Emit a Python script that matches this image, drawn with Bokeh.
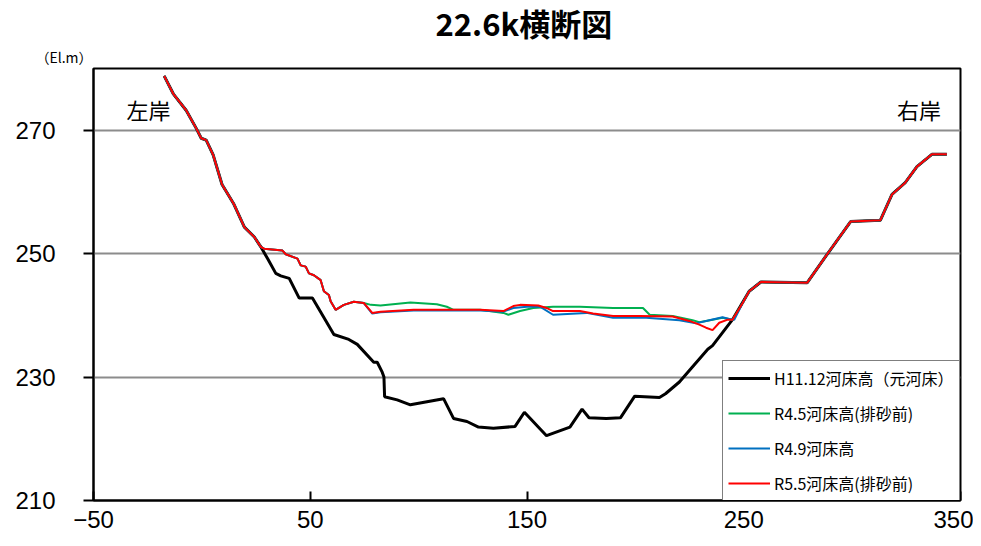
from bokeh.plotting import figure
from bokeh.models import Range1d, FixedTicker, Label, Legend, LegendItem, Title
from bokeh.embed import file_html
from bokeh.resources import INLINE

# ---- data (distance m, elevation El.m) ----
bank_left_x = [-17.4, -13.2, -7.2, -2.6, -0.3, 2.0, 5.2, 9.3, 14.8, 19.6, 24.2, 27.2]
bank_left_y = [278.8, 275.9, 273.2, 270.3, 268.7, 268.4, 266.0, 261.2, 258.0, 254.3, 252.7, 251.1]

bank_right_x = [257.9, 279.3, 289.3, 299.3, 313.0, 318.4, 324.5, 329.9, 336.8, 343.7]
bank_right_y = [245.4, 245.3, 250.3, 255.2, 255.4, 259.6, 261.5, 264.1, 266.1, 266.1]

h11_mid_x = [30.3, 34.1, 36.4, 40.3, 44.9, 51.0, 60.9, 67.8, 71.7, 79.3, 80.9, 83.2, 84.0, 84.3,
             90.1, 96.2, 111.5, 116.1, 122.3, 127.6, 134.5, 144.5, 148.8, 159.0, 169.8, 175.4,
             178.6, 186.6, 193.1, 199.7, 211.1, 213.9, 220.3, 233.4, 235.6, 244.8, 252.5]
h11_mid_y = [249.2, 246.8, 246.4, 246.0, 242.8, 242.8, 236.9, 236.1, 235.3, 232.4, 232.4, 230.8, 230.0, 226.8,
             226.3, 225.5, 226.5, 223.3, 222.8, 221.9, 221.7, 222.0, 224.3, 220.5, 221.9, 224.8,
             223.4, 223.3, 223.4, 226.9, 226.7, 227.3, 229.2, 234.5, 235.1, 239.3, 243.9]

toe_x = [28.7, 37.2, 38.7, 44.1, 45.6, 47.9, 49.4, 51.7, 54.8, 56.3, 58.6, 59.4, 61.7, 65.5, 70.1, 74.7]
toe_y = [250.8, 250.5, 249.9, 249.2, 248.1, 247.9, 246.8, 246.5, 245.7, 243.9, 243.3, 242.3, 240.9, 241.7, 242.2, 242.0]

r45_mid_x = [78.0, 82.4, 96.2, 108.4, 113.0, 116.1, 128.4, 139.1, 141.4, 146.8, 152.9, 162.0, 174.4,
             189.7, 203.5, 206.6, 217.2, 226.4, 229.5, 235.6, 240.2, 244.8, 249.5, 252.5]
r45_mid_y = [241.7, 241.6, 242.1, 241.8, 241.4, 240.9, 240.9, 240.4, 240.1, 240.7, 241.2, 241.4, 241.4,
             241.2, 241.2, 240.1, 239.9, 239.2, 238.9, 239.3, 239.6, 239.3, 242.0, 243.9]

r49_mid_x = [78.6, 82.4, 97.7, 116.1, 128.4, 139.1, 143.7, 150.0, 156.0, 162.0, 177.4, 189.7, 205.0,
             220.3, 228.0, 234.1, 240.2, 243.3, 245.6, 249.5, 252.5]
r49_mid_y = [240.3, 240.5, 240.8, 240.8, 240.8, 240.6, 241.2, 241.4, 241.4, 240.1, 240.4, 239.6, 239.6,
             239.2, 238.7, 239.2, 239.7, 239.4, 239.3, 242.0, 243.9]

r55_mid_x = [78.6, 82.4, 97.7, 116.1, 128.4, 139.1, 143.7, 146.8, 155.2, 159.0, 162.0, 174.4, 180.5,
             189.7, 201.9, 217.2, 224.9, 229.5, 232.6, 235.6, 238.7, 242.6, 244.8, 249.5, 252.5]
r55_mid_y = [240.4, 240.6, 240.9, 240.9, 240.9, 240.7, 241.5, 241.7, 241.6, 241.2, 240.7, 240.7, 240.3,
             239.9, 239.9, 239.8, 239.1, 238.5, 238.0, 237.6, 238.8, 239.3, 239.3, 242.0, 243.9]

series_names = ["H11.12河床高（元河床）", "R4.5河床高(排砂前)", "R4.9河床高", "R5.5河床高(排砂前)"]
x_ticks = [-50, 50, 150, 250, 350]
y_ticks = [210, 230, 250, 270]

h11_x = bank_left_x + h11_mid_x + bank_right_x
h11_y = bank_left_y + h11_mid_y + bank_right_y
r45_x = bank_left_x + toe_x + r45_mid_x + bank_right_x
r45_y = bank_left_y + toe_y + r45_mid_y + bank_right_y
r49_x = bank_left_x + toe_x + r49_mid_x + bank_right_x
r49_y = bank_left_y + toe_y + r49_mid_y + bank_right_y
r55_x = bank_left_x + toe_x + r55_mid_x + bank_right_x
r55_y = bank_left_y + toe_y + r55_mid_y + bank_right_y

p = figure(width=973, height=538, output_backend="svg", toolbar_location=None,
           x_range=Range1d(-50, 350), y_range=Range1d(210, 280),
           min_border_left=93, min_border_right=13, min_border_top=62, min_border_bottom=38)

p.outline_line_color = "black"
p.outline_line_width = 2
p.background_fill_color = "white"
p.border_fill_color = "white"

p.xgrid.visible = False
p.ygrid.grid_line_color = "#8c8c8c"
p.ygrid.grid_line_width = 2

p.xaxis.ticker = FixedTicker(ticks=x_ticks)
p.yaxis.ticker = FixedTicker(ticks=y_ticks)
for ax in (p.xaxis, p.yaxis):
    ax.axis_line_color = "black"
    ax.axis_line_width = 2
    ax.major_tick_line_color = "black"
    ax.major_tick_line_width = 2
    ax.minor_tick_line_color = None
    ax.major_label_text_font = "Liberation Sans"
    ax.major_label_text_color = "black"
    ax.major_label_text_font_size = "24px"
p.xaxis.major_tick_in = 9
p.xaxis.major_tick_out = 0
p.xaxis.major_label_standoff = 10
p.yaxis.major_tick_in = 0
p.yaxis.major_tick_out = 10
p.yaxis.major_label_standoff = 28

l1 = p.line(h11_x, h11_y, line_color="black", line_width=3)
l2 = p.line(r45_x, r45_y, line_color="#00B050", line_width=2)
l3 = p.line(r49_x, r49_y, line_color="#0070C0", line_width=2)
l4 = p.line(r55_x, r55_y, line_color="#FF0000", line_width=2)

legend = Legend(items=[LegendItem(label=series_names[0], renderers=[l1]),
                       LegendItem(label=series_names[1], renderers=[l2]),
                       LegendItem(label=series_names[2], renderers=[l3]),
                       LegendItem(label=series_names[3], renderers=[l4])],
                location=(629, -1))
legend.border_line_color = "black"
legend.border_line_width = 1.5
legend.background_fill_color = "white"
legend.background_fill_alpha = 1
legend.label_text_font = "Noto Sans CJK JP"
legend.label_text_font_size = "16px"
legend.label_text_color = "black"
legend.glyph_width = 42
legend.glyph_height = 20
legend.label_height = 20
legend.label_standoff = 4
legend.spacing = 11
legend.padding = 5
legend.margin = 0
p.add_layout(legend)

p.add_layout(Title(text="（El.m）", align="left", offset=-58, text_font="Noto Sans CJK JP",
                   text_font_size="14px", text_font_style="normal", text_color="black",
                   standoff=4), "above")
p.add_layout(Title(text="22.6k横断図", align="left", offset=342, text_font="Noto Sans CJK JP",
                   text_font_size="31px", text_font_style="bold", text_color="black",
                   standoff=-5), "above")

p.add_layout(Label(x=-34.8, y=273.4, text="左岸", text_font="Noto Sans CJK JP",
                   text_font_size="22px", text_align="left", text_baseline="middle", text_color="black"))
p.add_layout(Label(x=341.0, y=273.4, text="右岸", text_font="Noto Sans CJK JP",
                   text_font_size="22px", text_align="right", text_baseline="middle", text_color="black"))

open("out.html", "w").write(file_html(p, INLINE))
